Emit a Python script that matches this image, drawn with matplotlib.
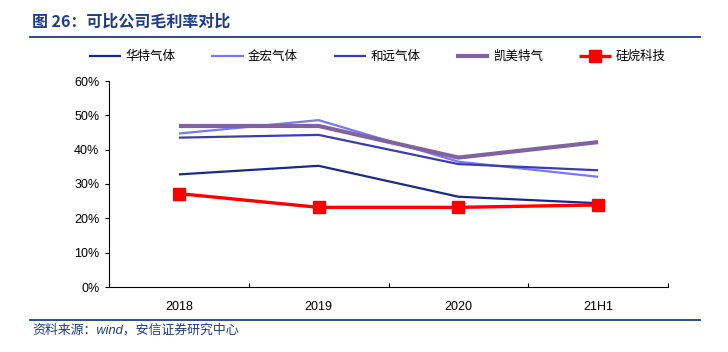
import matplotlib
matplotlib.use("Agg")
import matplotlib.pyplot as plt
from matplotlib.lines import Line2D
from matplotlib.ticker import FixedLocator, PercentFormatter

plt.rcParams['font.family'] = ['Liberation Sans', 'Noto Sans CJK SC', 'DejaVu Sans']

categories = ["2018", "2019", "2020", "21H1"]
huate = [32.8, 35.3, 26.3, 24.4]
jinhong = [44.7, 48.6, 36.5, 32.1]
heyuan = [43.5, 44.3, 35.8, 34.0]
kaimei = [46.9, 46.9, 37.7, 42.2]
guiwan = [27.2, 23.2, 23.2, 23.9]
series_names = ["华特气体", "金宏气体", "和远气体", "凯美特气", "硅烷科技"]
yticks = [0, 10, 20, 30, 40, 50, 60]

title_text = "图 26：可比公司毛利率对比"
source_text = "资料来源：wind，安信证券研究中心"

fig = plt.figure(figsize=(7.28, 3.52), dpi=100)
ax = fig.add_axes([109/728, 1-287/352, (668-109)/728, (287-81)/352])

x = list(range(len(categories)))
styles = [
    dict(color="#1a2a8c", lw=1.6),
    dict(color="#7878f5", lw=1.6),
    dict(color="#3c3cb0", lw=1.6),
    dict(color="#8064a2", lw=3.0),
    dict(color="#ff0000", lw=2.4, marker="s", markersize=8.5),
]
data = [huate, jinhong, heyuan, kaimei, guiwan]
handles = []
for d, st, name in zip(data, styles, series_names):
    h, = ax.plot(x, d, label=name, solid_capstyle='butt', **st)
    handles.append(h)

ax.set_xlim(-0.5, len(categories)-0.5)
ax.set_ylim(0, 60)
ax.set_yticks(yticks)
ax.yaxis.set_major_formatter(PercentFormatter(decimals=0))
ax.set_xticks(x)
ax.set_xticklabels(categories)
ax.xaxis.set_minor_locator(FixedLocator([i + 0.5 for i in range(-1, len(categories))]))
ax.tick_params(axis='x', which='major', length=0, pad=10, labelsize=9)
ax.tick_params(axis='x', which='minor', direction='in', length=3, width=0.8)
ax.tick_params(axis='y', length=3, width=0.8, direction='out', labelsize=9, pad=4)
for s in ['top', 'right']:
    ax.spines[s].set_visible(False)
for s in ['left', 'bottom']:
    ax.spines[s].set_linewidth(0.8)

fig.legend(handles=handles, loc='center', bbox_to_anchor=(0.518, 0.838), ncol=5,
           frameon=False, fontsize=9, handlelength=2.6, columnspacing=2.9,
           handletextpad=0.3)

blue = "#1f3c88"
fig.text(32/728, 1-22/352, title_text, fontsize=11.5, fontweight='bold', color=blue,
         va='center', ha='left', family=['Noto Sans CJK SC'])
fig.add_artist(Line2D([30/728, 700/728], [1-37/352, 1-37/352], color=blue, lw=1.3))
fig.add_artist(Line2D([30/728, 700/728], [1-320/352, 1-320/352], color=blue, lw=1.3))
fig.text(32/728, 1-330/352, source_text, fontsize=9.3, style='italic', color=blue,
         va='center', ha='left')

fig.savefig("out.png", dpi=100)
